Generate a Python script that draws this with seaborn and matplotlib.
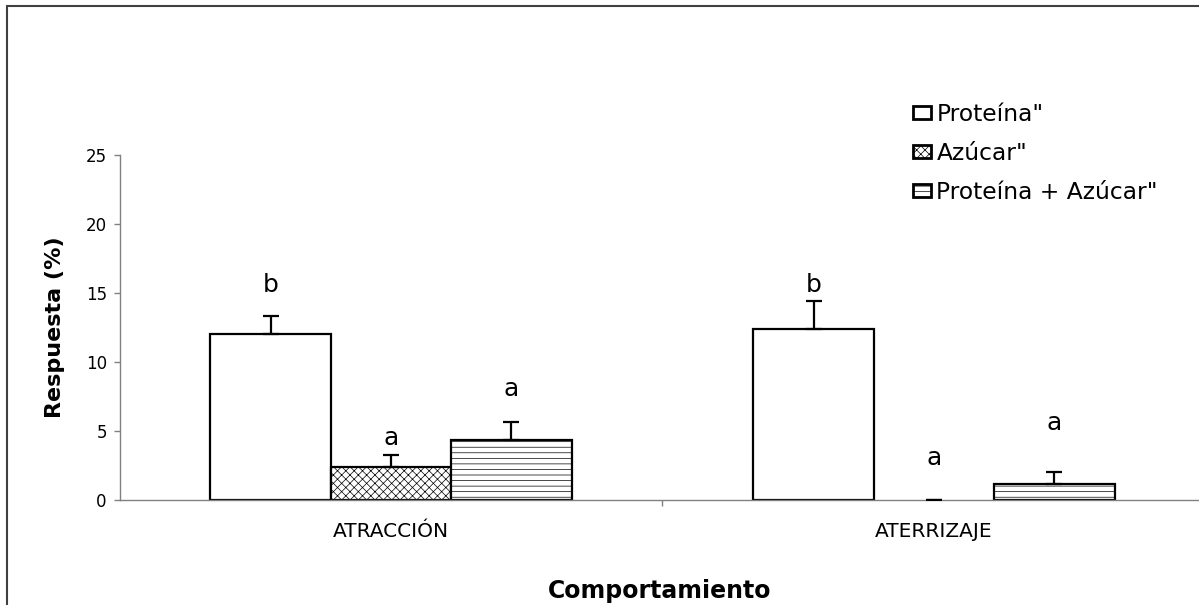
import matplotlib
matplotlib.use("Agg")
import matplotlib.pyplot as plt
import matplotlib.patches as mpatches
import pandas as pd
import seaborn as sns

# Mean response (%) and standard error per behaviour and bait
comportamientos = ["ATRACCIÓN", "ATERRIZAJE"]
tratamientos = ['Proteína"', 'Azúcar"', 'Proteína + Azúcar"']
resp_proteina = [12.0, 12.4]
resp_azucar = [2.4, 0.0]
resp_mezcla = [4.35, 1.15]
err_proteina = [1.35, 2.0]
err_azucar = [0.85, 0.0]
err_mezcla = [1.3, 0.85]
# Significance letters and the height (in %) where each one sits
letras = [["b", "b"], ["a", "a"], ["a", "a"]]
altura_letras = [[15.05, 15.05], [4.0, 2.55], [7.55, 5.05]]
yticks = [0, 5, 10, 15, 20, 25]

respuestas = [resp_proteina, resp_azucar, resp_mezcla]
errores = [err_proteina, err_azucar, err_mezcla]
tramas = ["", "xxxx", "---"]

df = pd.DataFrame(
    [
        {"Comportamiento": c, "Tratamiento": t, "Respuesta": respuestas[i][j]}
        for i, t in enumerate(tratamientos)
        for j, c in enumerate(comportamientos)
    ]
)

sns.set_style("white")
plt.rcParams["font.family"] = ["DejaVu Sans"]
plt.rcParams["hatch.linewidth"] = 0.5
plt.rcParams["text.color"] = "black"
plt.rcParams["axes.labelcolor"] = "black"
plt.rcParams["xtick.labelcolor"] = "black"
plt.rcParams["ytick.labelcolor"] = "black"

W, H = 1199, 605
fig = plt.figure(figsize=(W / 100, H / 100), dpi=100)
ax = fig.add_axes([120 / W, 1 - 500 / H, (W - 120) / W, 345 / H])

sns.barplot(
    data=df, x="Comportamiento", y="Respuesta", hue="Tratamiento",
    order=comportamientos, hue_order=tratamientos,
    palette=["white"] * 3, saturation=1, width=0.665,
    edgecolor="black", linewidth=1.6, errorbar=None, legend=False, ax=ax,
)

bar_groups = list(ax.containers)
for i, cont in enumerate(bar_groups):
    for j, bar in enumerate(cont.patches):
        bar.set_hatch(tramas[i])
        if bar.get_height() == 0:
            bar.set_linewidth(0)
        xc = bar.get_x() + bar.get_width() / 2
        h = bar.get_height()
        ax.errorbar(xc, h, yerr=[[0], [errores[i][j]]], fmt="none",
                    ecolor="black", elinewidth=1.6, capsize=5.5,
                    capthick=1.6, zorder=3)
        ax.text(xc, altura_letras[i][j], letras[i][j], ha="center",
                va="baseline", fontsize=18, color="black")

ax.set_ylim(0, 25)
ax.set_xlim(-0.499, 1.488)
ax.set_yticks(yticks)
ax.set_yticklabels([str(v) for v in yticks], fontsize=12)
ax.set_xticks([0, 1])
ax.set_xticklabels(comportamientos, fontsize=14.5)
ax.set_xticks([0.5], minor=True)
ax.tick_params(axis="x", which="major", length=0, pad=16, labelcolor="black")
ax.tick_params(axis="x", which="minor", length=4.5, width=1, color="#808080",
               direction="out", bottom=True)
ax.tick_params(axis="y", length=4.5, width=1, color="#808080",
               direction="out", left=True, pad=5, labelcolor="black")

for side in ["top", "right"]:
    ax.spines[side].set_visible(False)
for side in ["left", "bottom"]:
    ax.spines[side].set_color("#808080")
    ax.spines[side].set_linewidth(1.0)

ax.set_ylabel("Respuesta (%)", fontsize=16, fontweight="bold", labelpad=15,
              color="black")
ax.set_xlabel("Comportamiento", fontsize=17, fontweight="bold", labelpad=27,
              color="black")

handles = [
    mpatches.Patch(facecolor="white", edgecolor="black", linewidth=2,
                   hatch=tramas[i], label=t)
    for i, t in enumerate(tratamientos)
]
fig.legend(handles=handles, loc="upper left",
           bbox_to_anchor=(913 / W, 1 - 103 / H), frameon=False,
           fontsize=16.8, borderpad=0, borderaxespad=0,
           handlelength=0.75, handleheight=0.5, handletextpad=0.25,
           labelspacing=0.68, labelcolor="black")

# Outer chart frame (top and left edges visible)
fig.add_artist(mpatches.Rectangle((7 / W, -0.1), 1.2, 1.1 - 6 / H,
                                  transform=fig.transFigure, fill=False,
                                  edgecolor="#404040", linewidth=1.5,
                                  clip_on=False))

fig.savefig("out.png", dpi=100)
